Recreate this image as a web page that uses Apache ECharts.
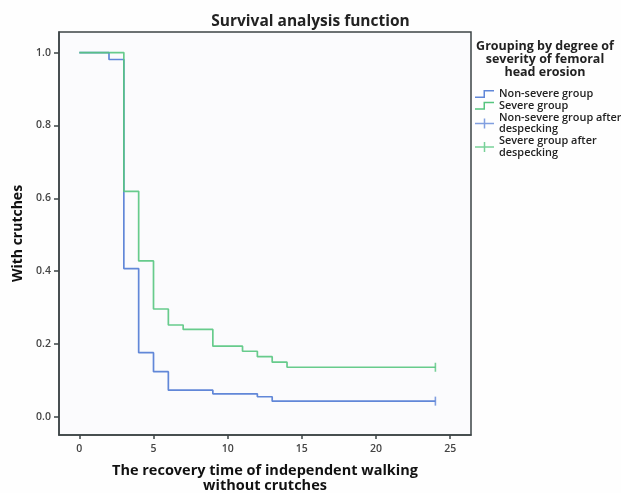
<!DOCTYPE html>
<html>
<head>
<meta charset="utf-8">
<script src="https://cdn.jsdelivr.net/npm/echarts@6/dist/echarts.min.js"></script>
<style>
html,body{margin:0;padding:0;background:#fefefe;}
#chart{width:621px;height:493px;}
</style>
</head>
<body>
<div id="chart"></div>
<script>
// Kaplan-Meier step data
const nonSevereTimes = [0, 2, 3, 4, 5, 6, 9, 12, 13, 24];
const nonSevereSurv  = [1.0, 0.981, 0.407, 0.176, 0.124, 0.073, 0.063, 0.055, 0.043, 0.043];
const severeTimes = [0, 3, 4, 5, 6, 7, 9, 11, 12, 13, 14, 24];
const severeSurv  = [1.0, 0.619, 0.428, 0.296, 0.252, 0.240, 0.194, 0.180, 0.165, 0.150, 0.136, 0.136];
const censorTime = 24;
const xTicks = [0, 5, 10, 15, 20, 25];
const yTicks = [0.0, 0.2, 0.4, 0.6, 0.8, 1.0];
const seriesNames = ['Non-severe group', 'Severe group', 'Non-severe group after\ndespecking', 'Severe group after\ndespecking'];
const legendTitle = 'Grouping by degree of\nseverity of femoral\nhead erosion';

const BLUE = '#6187d8';
const GREEN = '#56c57f';
const FONT = '"Open Sans", "DejaVu Sans", sans-serif';

function pairs(t, s) { return t.map((x, i) => [x, s[i]]); }

const stepIcon = 'path://M0,7.5 L8.5,7.5 L8.5,1 L19,1 L19,2.5 L10,2.5 L10,9 L0,9 Z';
const plusIcon = 'path://M0,4.25 L19,4.25 L19,5.75 L0,5.75 Z M8.75,0 L10.25,0 L10.25,10 L8.75,10 Z';

const chart = echarts.init(document.getElementById('chart'), null, {renderer: 'canvas'});
chart.setOption({
  animation: false,
  backgroundColor: '#fefefe',
  title: {
    text: 'Survival analysis function',
    left: 'center',
    top: 9,
    textStyle: {fontFamily: FONT, fontWeight: 'bold', fontSize: 15.5, color: '#222'}
  },
  graphic: [{
    type: 'text',
    x: 545,
    y: 40,
    style: {
      text: legendTitle,
      align: 'center',
      verticalAlign: 'top',
      font: 'bold 12.5px ' + FONT,
      lineHeight: 13,
      fill: '#222'
    }
  }],
  legend: {
    orient: 'vertical',
    left: 470,
    top: 83,
    itemWidth: 19,
    itemHeight: 10,
    itemGap: 0,
    textStyle: {fontFamily: FONT, fontWeight: 600, fontSize: 10.9, lineHeight: 11.8, color: '#222'},
    data: [
      {name: seriesNames[0], icon: stepIcon},
      {name: seriesNames[1], icon: stepIcon},
      {name: seriesNames[2], icon: plusIcon},
      {name: seriesNames[3], icon: plusIcon}
    ]
  },
  grid: {
    left: 59, top: 32, right: 150, bottom: 58,
    outerBoundsMode: 'none',
    containLabel: false,
    show: true,
    backgroundColor: '#fbfbfd',
    borderColor: '#3c4446',
    borderWidth: 1.5
  },
  xAxis: {
    type: 'value',
    min: -1.37,
    max: 26.4,
    name: 'The recovery time of independent walking\nwithout crutches',
    nameLocation: 'middle',
    nameGap: 28,
    nameTextStyle: {fontFamily: FONT, fontWeight: 'bold', fontSize: 14.5, lineHeight: 15, color: '#111'},
    axisLine: {onZero: false, lineStyle: {color: '#3c4446', width: 1.5}},
    axisTick: {show: true, length: 4, customValues: xTicks, lineStyle: {color: '#3c4446', width: 1.5}},
    axisLabel: {customValues: xTicks, fontFamily: FONT, fontWeight: 600, fontSize: 10.5, color: '#444', margin: 9},
    splitLine: {show: false}
  },
  yAxis: {
    type: 'value',
    min: -0.05,
    max: 1.0565,
    name: 'With crutches',
    nameLocation: 'middle',
    nameGap: 33,
    nameTextStyle: {fontFamily: FONT, fontWeight: 'bold', fontSize: 14, color: '#111'},
    axisLine: {onZero: false, lineStyle: {color: '#3c4446', width: 1.5}},
    axisTick: {show: true, length: 5, customValues: yTicks, lineStyle: {color: '#3c4446', width: 1.5}},
    axisLabel: {customValues: yTicks, formatter: v => v.toFixed(1), fontFamily: FONT, fontWeight: 600, fontSize: 10.5, color: '#444', margin: 8},
    splitLine: {show: false}
  },
  series: [
    {
      name: seriesNames[0], type: 'line', step: 'end', showSymbol: false,
      data: pairs(nonSevereTimes, nonSevereSurv),
      itemStyle: {color: BLUE}, lineStyle: {color: BLUE, width: 1.7}
    },
    {
      name: seriesNames[1], type: 'line', step: 'end', showSymbol: false,
      data: pairs(severeTimes, severeSurv),
      itemStyle: {color: GREEN}, lineStyle: {color: GREEN, width: 1.7, opacity: 0.9}
    },
    {
      name: seriesNames[2], type: 'scatter', symbol: 'rect', symbolSize: [1.6, 9],
      data: [[censorTime, nonSevereSurv[nonSevereSurv.length - 1]]],
      itemStyle: {color: BLUE}
    },
    {
      name: seriesNames[3], type: 'scatter', symbol: 'rect', symbolSize: [1.6, 9],
      data: [[censorTime, severeSurv[severeSurv.length - 1]]],
      itemStyle: {color: GREEN}
    }
  ]
});
</script>
</body>
</html>
